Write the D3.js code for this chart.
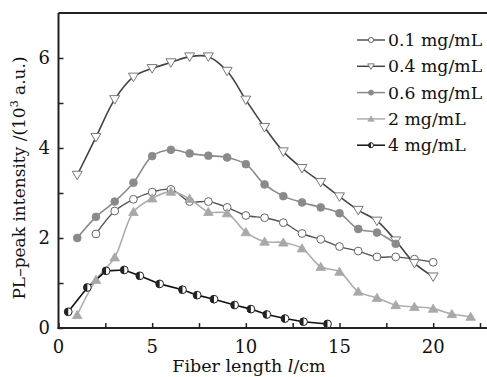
<!DOCTYPE html>
<html><head><meta charset="utf-8">
<script src="https://cdn.jsdelivr.net/npm/d3@7"></script>
<style>body{margin:0;background:#fff}svg{display:block}</style>
</head><body>
<svg id="chart" width="487" height="377"></svg>
<script>
const seriesNames = ["0.1 mg/mL", "0.4 mg/mL", "0.6 mg/mL", "2 mg/mL", "4 mg/mL"];
const x01 = [2,3,4,5,6,7,8,9,10,11,12,13,14,15,16,17,18,19,20];
const y01 = [2.09,2.6,2.86,3.02,3.08,2.81,2.81,2.68,2.5,2.45,2.34,2.1,1.97,1.81,1.71,1.58,1.58,1.53,1.46];
const x04 = [1,2,3,4,5,6,7,8,9,10,11,12,13,14,15,16,17,18,19,20];
const y04 = [3.4,4.24,5.08,5.58,5.77,5.9,6.03,6.03,5.71,5.07,4.46,3.92,3.55,3.24,2.92,2.62,2.38,1.94,1.44,1.14];
const x06 = [1,2,3,4,5,6,7,8,9,10,11,12,13,14,15,16,17,18];
const y06 = [2.0,2.47,2.81,3.23,3.82,3.96,3.88,3.83,3.79,3.64,3.19,2.93,2.79,2.68,2.55,2.2,2.12,1.87];
const x2 = [1,2,3,4,5,6,7,8,9,10,11,12,13,14,15,16,17,18,19,20,21,22];
const y2 = [0.29,1.07,1.57,2.58,2.88,3.03,2.87,2.58,2.55,2.13,1.92,1.9,1.77,1.36,1.25,0.81,0.67,0.51,0.47,0.43,0.31,0.25];
const x4 = [0.52,1.54,2.54,3.51,4.34,5.4,6.62,7.4,8.3,9.4,10.27,11.12,12.09,13.08,14.36];
const y4 = [0.36,0.9,1.27,1.29,1.16,0.98,0.85,0.73,0.64,0.51,0.42,0.3,0.21,0.14,0.09];
const xTicks = [0,5,10,15,20];
const xMinor = [2.5,7.5,12.5,17.5,22.5];
const yTicks = [0,2,4,6];
const yMinor = [1,3,5];

const svg = d3.select("#chart");
const font = "DejaVu Serif";
const x = d3.scaleLinear().domain([0, 22.9]).range([58.5, 487.5]);
const y = d3.scaleLinear().domain([0, 7]).range([328, 13]);

const series = [
  {name: seriesNames[0], xs: x01, ys: y01, line: "#555", lw: 1.4, marker: "circleOpen", curve: d3.curveCatmullRom},
  {name: seriesNames[1], xs: x04, ys: y04, line: "#444", lw: 1.6, marker: "triDown", curve: d3.curveCatmullRom},
  {name: seriesNames[2], xs: x06, ys: y06, line: "#8a8a8a", lw: 1.6, marker: "circleFill", curve: d3.curveCatmullRom},
  {name: seriesNames[3], xs: x2, ys: y2, line: "#adadad", lw: 1.6, marker: "triUp", curve: d3.curveCatmullRom},
  {name: seriesNames[4], xs: x4, ys: y4, line: "#111", lw: 1.6, marker: "half", curve: d3.curveLinear}
];

// axes frame
const ax = svg.append("g").attr("stroke", "#222").attr("stroke-width", 2).attr("fill", "none");
ax.append("line").attr("x1", x(0)).attr("x2", 487).attr("y1", y(7)).attr("y2", y(7));
ax.append("line").attr("x1", x(0)).attr("x2", x(0)).attr("y1", y(7)).attr("y2", y(0)+1);
ax.append("line").attr("x1", x(0)-1).attr("x2", 487).attr("y1", y(0)).attr("y2", y(0));

const xAxis = d3.axisBottom(x).tickValues(xTicks.concat(xMinor)).tickSize(-5).tickFormat("");
const gx = svg.append("g").attr("transform", `translate(0,${y(0)})`).call(xAxis);
gx.select(".domain").remove();
gx.selectAll(".tick line").attr("stroke", "#222").attr("stroke-width", 1.5);
const yAxis = d3.axisLeft(y).tickValues(yTicks.concat(yMinor)).tickSize(-5).tickFormat("");
const gy = svg.append("g").attr("transform", `translate(${x(0)},0)`).call(yAxis);
gy.select(".domain").remove();
gy.selectAll(".tick line").attr("stroke", "#222").attr("stroke-width", 1.5);

svg.append("g").selectAll("text").data(xTicks).join("text")
  .attr("x", d => x(d)).attr("y", 353).attr("text-anchor", "middle")
  .attr("font-family", font).attr("font-size", 18).attr("fill", "#111").text(d => d);
svg.append("g").selectAll("text").data(yTicks).join("text")
  .attr("x", 50).attr("y", d => y(d) + 6).attr("text-anchor", "end")
  .attr("font-family", font).attr("font-size", 18).attr("fill", "#111").text(d => d);

// titles
const xt = svg.append("text").attr("x", 249).attr("y", 372).attr("text-anchor", "middle")
  .attr("font-family", font).attr("font-size", 17.5).attr("fill", "#111");
xt.append("tspan").text("Fiber length ");
xt.append("tspan").attr("font-style", "italic").text("l");
xt.append("tspan").text("/cm");

const yt = svg.append("text").attr("transform", "translate(25,178) rotate(-90)").attr("text-anchor", "middle")
  .attr("font-family", font).attr("font-size", 17).attr("fill", "#111");
yt.append("tspan").text("PL\u2013peak intensity /(10");
yt.append("tspan").attr("font-size", 11).attr("dy", -7).text("3");
yt.append("tspan").attr("dy", 7).text(" a.u.)");

function drawMarker(g, type, color, s) {
  const r = 3.9 * s;
  if (type === "circleOpen") {
    g.append("circle").attr("r", r).attr("fill", "#fff").attr("stroke", "#666").attr("stroke-width", 1);
  } else if (type === "circleFill") {
    g.append("circle").attr("r", r).attr("fill", "#8a8a8a").attr("stroke", "#8a8a8a").attr("stroke-width", 0.8);
  } else if (type === "triDown") {
    const t = 5 * s;
    g.append("path").attr("d", `M${-t},${-t*0.75}L${t},${-t*0.75}L0,${t*0.95}Z`)
      .attr("fill", "#fff").attr("stroke", "#777").attr("stroke-width", 1);
  } else if (type === "triUp") {
    const t = 4.8 * s;
    g.append("path").attr("d", `M${-t},${t*0.75}L${t},${t*0.75}L0,${-t*0.95}Z`)
      .attr("fill", "#a8a8a8").attr("stroke", "#a8a8a8").attr("stroke-width", 0.8);
  } else if (type === "half") {
    g.append("circle").attr("r", r).attr("fill", "#fff").attr("stroke", "#222").attr("stroke-width", 1);
    g.append("path").attr("d", `M0,${-r}A${r},${r} 0 0 0 0,${r}Z`).attr("fill", "#222");
  }
}

const plot = svg.append("g");
series.forEach(s => {
  const pts = s.xs.map((v, i) => [v, s.ys[i]]);
  plot.append("path").datum(pts)
    .attr("d", d3.line().x(d => x(d[0])).y(d => y(d[1])).curve(s.curve))
    .attr("fill", "none").attr("stroke", s.line).attr("stroke-width", s.lw);
});
series.forEach(s => {
  const pts = s.xs.map((v, i) => [v, s.ys[i]]);
  pts.forEach(p => {
    const g = plot.append("g").attr("transform", `translate(${x(p[0])},${y(p[1])})`);
    drawMarker(g, s.marker, s.line, 1);
  });
});

// legend
const lg = svg.append("g");
series.forEach((s, i) => {
  const yy = 40 + i * 26.3;
  lg.append("line").attr("x1", 357).attr("x2", 385).attr("y1", yy).attr("y2", yy)
    .attr("stroke", s.line).attr("stroke-width", 1.5);
  const g = lg.append("g").attr("transform", `translate(371,${yy})`);
  drawMarker(g, s.marker, s.line, 0.65);
  lg.append("text").attr("x", 388).attr("y", yy + 6).attr("font-family", font).attr("font-size", 17.3)
    .attr("fill", "#111").text(s.name);
});
</script>
</body></html>
